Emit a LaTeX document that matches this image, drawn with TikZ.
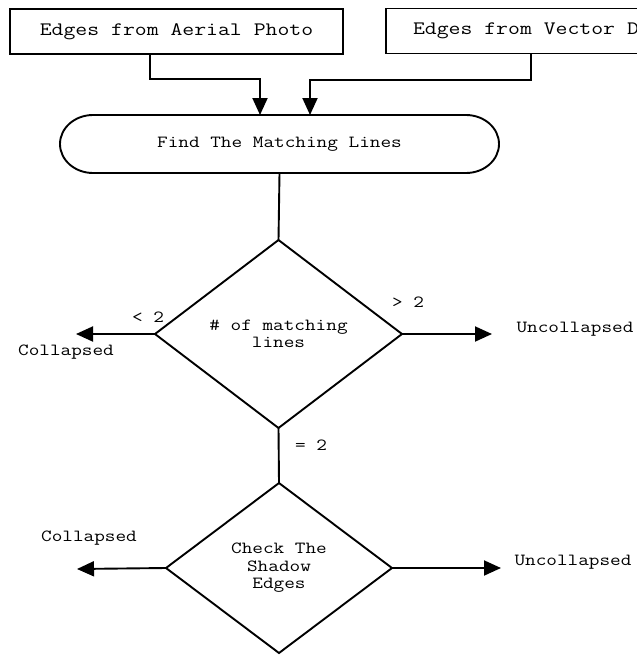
\documentclass[tikz,border=0pt]{standalone}
\usepackage{fontspec}
\setmonofont[FakeStretch=1.215]{Latin Modern Mono}
\usetikzlibrary{arrows.meta,shapes.geometric}

\begin{document}
\begin{tikzpicture}[x=1pt,y=-1pt,
  every node/.style={font=\ttfamily\fontsize{17}{17.5}\selectfont, align=center},
  big/.style={font=\ttfamily\fontsize{19}{20}\selectfont},
  line/.style={line width=1.9pt},
  arr/.style={line, -{Triangle[length=17pt,width=15pt]}},
  inbox/.style={draw, big, line width=1.9pt, minimum height=45pt, inner sep=0pt, outer sep=0pt},
  decision/.style={diamond, draw, line width=1.9pt, inner sep=0pt, outer sep=0pt},
  process/.style={inner sep=0pt, outer sep=0pt, minimum width=439pt, minimum height=58pt},
  lbl/.style={inner sep=0pt}
]
\useasboundingbox (0,0) rectangle (637,656);
\fill[white] (0,0) rectangle (637,656);
\clip (0,0) rectangle (637,656);

% input boxes
\node[inbox, minimum width=333pt] (aerial) at (176.5,31.5) {Edges from Aerial Photo};
\node[inbox, anchor=west, inner xsep=27pt] (vector) at (386,31) {Edges from Vector Data};

% matching step: a stadium with elliptical ends
\node[process] (find) at (279.5,144) {Find The Matching Lines};
\draw[line] ([xshift=33pt]find.north west) -- ([xshift=-33pt]find.north east)
  arc[start angle=90, end angle=-90, x radius=33pt, y radius=29pt]
  -- ([xshift=33pt]find.south west)
  arc[start angle=270, end angle=90, x radius=33pt, y radius=29pt] -- cycle;

% decisions
\node[decision, minimum width=247pt, minimum height=188pt] (count) at (278.5,334) {\# of matching\\lines};
\node[decision, minimum width=226pt, minimum height=170pt] (shadow) at (279,568) {Check The\\Shadow\\Edges};

% routing points
\coordinate (a1) at (150,79);
\coordinate (a2) at (260,79);
\coordinate (b1) at (531,80);
\coordinate (b2) at (310,80);
\coordinate (c1) at (76,334);
\coordinate (c2) at (492,334);
\coordinate (e1) at (77,569);
\coordinate (e2) at (501,568);

% connectors
\draw[arr] (aerial.south -| a1) -- (a1) -- (a2) -- (a2 |- find.north);
\draw[arr] (vector.south -| b1) -- (b1) -- (b2) -- (b2 |- find.north);
\draw[line] (find.south) -- (count.north);
\draw[arr] (count.west) -- (c1);
\draw[arr] (count.east) -- (c2);
\draw[line] (count.south) -- (shadow.north);
\draw[arr] (shadow.west) -- (e1);
\draw[arr] (shadow.east) -- (e2);

% labels
\node[lbl] (lt) at (148,317) {< 2};
\node[lbl] (gt) at (408,302) {> 2};
\node[lbl] (eq) at (311,445) {= 2};
\node[lbl] (col1) at (66,352) {Collapsed};
\node[lbl] (unc1) at (575,329) {Uncollapsed};
\node[lbl] (col2) at (89,538) {Collapsed};
\node[lbl] (unc2) at (573,562) {Uncollapsed};
\end{tikzpicture}
\end{document}
